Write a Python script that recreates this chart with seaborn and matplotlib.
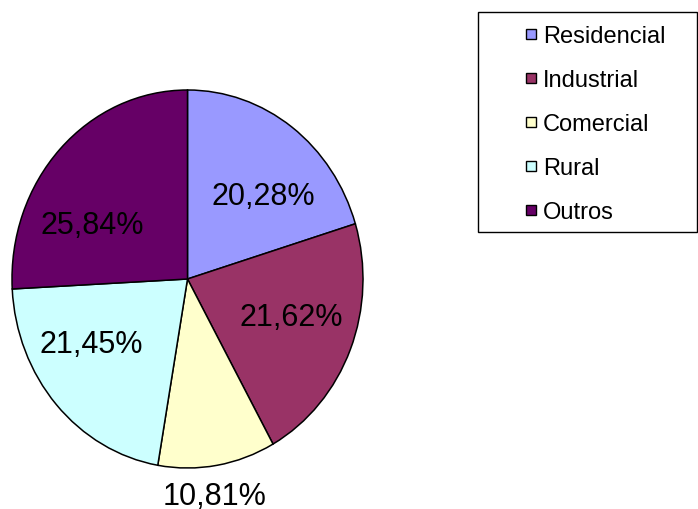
import matplotlib
matplotlib.use("Agg")
import matplotlib.pyplot as plt
import seaborn as sns
from matplotlib.lines import Line2D
from matplotlib.patches import Rectangle

# Dados do gráfico
categorias = ["Residencial", "Industrial", "Comercial", "Rural", "Outros"]
percentuais = [20.28, 21.62, 10.81, 21.45, 25.84]
cores = ["#9999FF", "#993366", "#FFFFCC", "#CCFFFF", "#660066"]

sns.set_style("white")
plt.rcParams["font.family"] = ["Liberation Sans", "DejaVu Sans"]

fig = plt.figure(figsize=(6.98, 5.10), dpi=100)
ax = fig.add_axes([12 / 698, 41 / 510, 351 / 698, 378 / 510])

wedges, textos, autotextos = ax.pie(
    percentuais,
    colors=cores,
    startangle=90,
    counterclock=False,
    autopct=lambda p: f"{p:.2f}%".replace(".", ","),
    pctdistance=0.62,
    wedgeprops=dict(edgecolor="black", linewidth=1.1),
    textprops=dict(fontsize=22, color="black"),
)
ax.set_aspect("auto")
ax.set_xlim(-1, 1)
ax.set_ylim(-1, 1)

# posição dos rótulos como no original (o menor fica fora da pizza)
pos_rotulos = [(0.43, 0.44), (0.59, -0.20), (0.157, -1.15), (-0.55, -0.345), (-0.545, 0.285)]
for t, xy in zip(autotextos, pos_rotulos):
    t.set_position(xy)
    t.set_va("center")

# moldura da legenda
fig.patches.append(Rectangle((478 / 698, 1 - 233 / 510), 219 / 698, 220 / 510,
                             transform=fig.transFigure, facecolor="white",
                             edgecolor="black", linewidth=1.0, zorder=0))

handles = [Line2D([], [], marker="s", linestyle="", markersize=7,
                  markerfacecolor=c, markeredgecolor="black", markeredgewidth=1.0)
           for c in cores]
fig.legend(handles, categorias, loc="upper left",
           bbox_to_anchor=(524 / 698, 1 - 26 / 510), frameon=False,
           fontsize=17, labelcolor="black", handlelength=0.6, handletextpad=0.2,
           labelspacing=0.93, borderpad=0, borderaxespad=0)

fig.savefig("out.png", dpi=100)
